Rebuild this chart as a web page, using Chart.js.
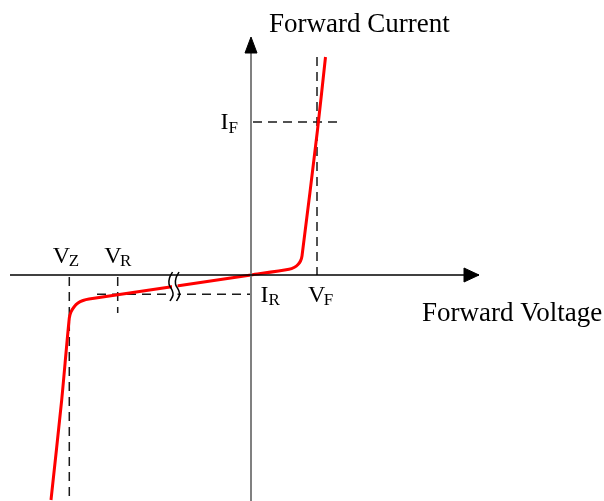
<!DOCTYPE html>
<html>
<head>
<meta charset="utf-8">
<script src="https://cdn.jsdelivr.net/npm/chart.js@4/dist/chart.umd.min.js"></script>
<style>
  html,body{margin:0;padding:0;background:#fff;}
  #wrap{width:604px;height:501px;}
</style>
</head>
<body>
<div id="wrap"><canvas id="c" width="604" height="501"></canvas></div>
<script>
// ---- data (units, origin at axes crossing) ----
const curveV = [-200, -189.3, -181.7, -180, -177, -173, -168, -162, 0, 38, 43.5, 47, 49.5, 51, 66.5, 74.5];
const curveI = [-225, -125, -43, -37, -32, -28, -25.5, -24, 0, 5.7, 7.8, 10.5, 14, 19, 145, 218];

const VZ = -181.7, VR = -133.3, VF = 66;
const IF = 153, IR = -19.3;
const BREAK_AT = [-80, -73.5];

const axisXRange = [-241, 228];   // horizontal axis extent (voltage)
const axisYRange = [-226, 223];   // vertical axis extent (current)

const xTitle = 'Forward Voltage';
const yTitle = 'Forward Current';
const markLabels = [
  {main:'V', sub:'Z'}, {main:'V', sub:'R'}, {main:'I', sub:'R'},
  {main:'V', sub:'F'}, {main:'I', sub:'F'}
];

// ---- helpers building datasets ----
const pts = (xs, ys) => xs.map((x, i) => ({x, y: ys[i]}));
const dashStyle = {borderColor:'#1a1a1a', borderWidth:1.5, borderDash:[9,6], pointRadius:0, fill:false, tension:0};

const wave = (cx) => [
  {x:cx+1.5, y:3}, {x:cx-1.5, y:-3}, {x:cx-2, y:-9}, {x:cx+1, y:-15}, {x:cx+2, y:-20}, {x:cx-1, y:-26}
];

const datasets = [
  // dashed guides
  Object.assign({data: pts([2, 92], [IF, IF]), order: 10}, dashStyle),
  Object.assign({data: pts([VF, VF], [218, 0]), order: 10}, dashStyle),
  Object.assign({data: pts([-154, 0], [IR, IR]), order: 10}, dashStyle),
  Object.assign({data: pts([VZ, VZ], [-2, -226]), order: 10}, dashStyle),
  Object.assign({data: pts([VR, VR], [-2, -38]), order: 10}, dashStyle),
  // red characteristic
  {data: pts(curveV, curveI), borderColor:'#ff0000', borderWidth:3, pointRadius:0, tension:0.25, fill:false, order:8, borderCapStyle:'butt'},
  // white patch for break
  {data: [{x:BREAK_AT[0]+1, y:-3}, {x:BREAK_AT[1], y:-3}, {x:BREAK_AT[1], y:-24}, {x:BREAK_AT[0]+1, y:-24}, {x:BREAK_AT[0]+1, y:-3}],
   borderColor:'rgba(0,0,0,0)', borderWidth:0, backgroundColor:'#fff', fill:'shape', pointRadius:0, tension:0, order:6},
  // axes
  {data: pts(axisXRange, [0, 0]), borderColor:'#000', borderWidth:1.6, pointRadius:0, fill:false, order:4},
  {data: pts([0, 0], axisYRange), borderColor:'#808080', borderWidth:2, pointRadius:0, fill:false, order:4},
  // break squiggles
  {data: wave(BREAK_AT[0]), borderColor:'#000', borderWidth:1.5, pointRadius:0, tension:0.4, fill:false, order:3},
  {data: wave(BREAK_AT[1]), borderColor:'#000', borderWidth:1.5, pointRadius:0, tension:0.4, fill:false, order:3},
  // arrow heads
  {data: [{x:213, y:7}, {x:228, y:0}, {x:213, y:-7}, {x:213, y:7}], borderColor:'#000', borderWidth:1, backgroundColor:'#000', fill:'shape', pointRadius:0, tension:0, order:2},
  {data: [{x:-6, y:222}, {x:0, y:238}, {x:6, y:222}, {x:-6, y:222}], borderColor:'#000', borderWidth:1, backgroundColor:'#000', fill:'shape', pointRadius:0, tension:0, order:2}
];

// ---- text labels drawn at scale positions ----
const textPlugin = {
  id: 'texts',
  afterDatasetsDraw(chart) {
    const {ctx, scales:{x, y}} = chart;
    ctx.save();
    ctx.fillStyle = '#000';
    ctx.textBaseline = 'alphabetic';
    ctx.textAlign = 'left';
    ctx.font = '27px "Liberation Serif"';
    ctx.fillText(yTitle, x.getPixelForValue(18), y.getPixelForValue(243.3));
    ctx.fillText(xTitle, x.getPixelForValue(171), y.getPixelForValue(-46));
    const anchors = [
      [VZ - 16.5, 12.5], [VR - 13.5, 12.5], [9.5, -26.7], [VF - 9, -26.7], [-30.5, IF - 7]
    ];
    markLabels.forEach((m, i) => {
      const px = x.getPixelForValue(anchors[i][0]);
      const py = y.getPixelForValue(anchors[i][1]);
      ctx.font = '24px "Liberation Serif"';
      ctx.fillText(m.main, px, py);
      const w = ctx.measureText(m.main).width;
      ctx.font = '17px "Liberation Serif"';
      ctx.fillText(m.sub, px + w - (m.main === 'V' ? 1.5 : 0), py + 3.5);
    });
    ctx.restore();
  }
};

new Chart(document.getElementById('c'), {
  type: 'line',
  data: {datasets},
  options: {
    responsive: false,
    animation: false,
    layout: {padding: 0},
    plugins: {legend: {display:false}, tooltip: {enabled:false}},
    scales: {
      x: {type:'linear', min:-251, max:353, display:false},
      y: {type:'linear', min:-226, max:275, display:false}
    }
  },
  plugins: [textPlugin]
});
</script>
</body>
</html>
